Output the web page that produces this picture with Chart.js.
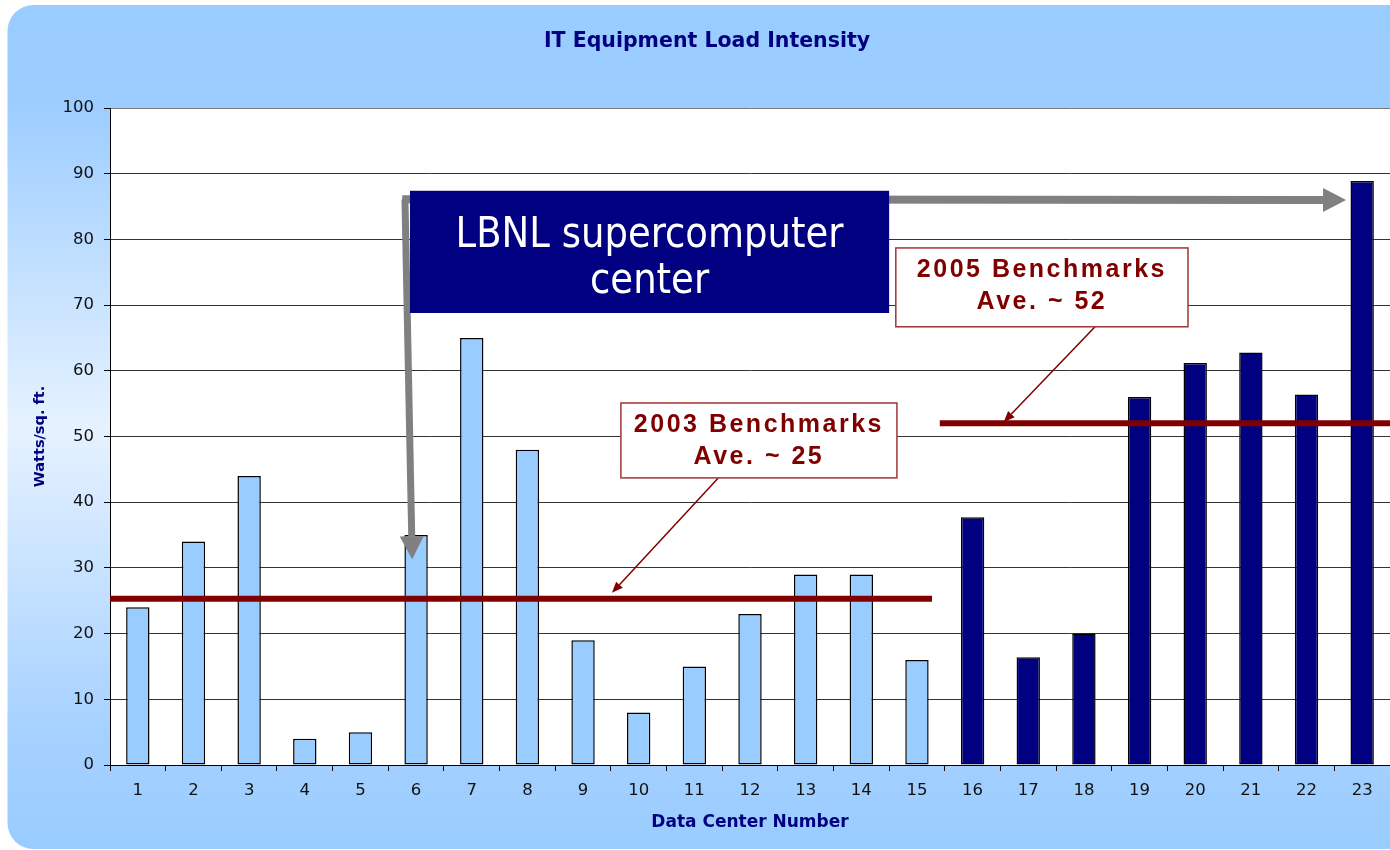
<!DOCTYPE html>
<html>
<head>
<meta charset="utf-8">
<title>IT Equipment Load Intensity</title>
<script src="https://cdn.jsdelivr.net/npm/chart.js@4.4.1/dist/chart.umd.min.js"></script>
<style>
  html, body { margin: 0; padding: 0; background: #fff; }
  #wrap { width: 1390px; height: 850px; }
</style>
</head>
<body>
<div id="wrap"><canvas id="loadChart" width="1390" height="850"></canvas></div>
<script>
// Data center numbers 1..23 and their load (Watts / sq. ft.)
const centerNumbers = ['1', '2', '3', '4', '5', '6', '7', '8', '9', '10', '11', '12',
                       '13', '14', '15', '16', '17', '18', '19', '20', '21', '22', '23'];
const load2003 = [24, 34, 44, 4, 5, 35, 65, 48, 19, 8, 15, 23, 29, 29, 16,
                  null, null, null, null, null, null, null, null];
const load2005 = [null, null, null, null, null, null, null, null, null, null, null, null, null, null, null,
                  37.7, 16.4, 20, 56, 61.2, 62.8, 56.4, 88.9];
const yTickValues = [0, 10, 20, 30, 40, 50, 60, 70, 80, 90, 100];

// benchmark averages and the span of centers they cover (category index)
const benchmarkTitles = ['2003 Benchmarks', '2005 Benchmarks'];
const benchmarkNotes = ['Ave. ~ 25', 'Ave. ~ 52'];
const benchmarkAverages = [25.3, 52];
const benchmarkFrom = [-0.5, 14.41];
const benchmarkTo = [14.27, 22.5];

// callouts, in data space (x = category index, y = Watts/sq. ft.)
const benchBoxes = [
  { x0: 8.68, x1: 13.64, y0: 55.1, y1: 43.7, from: [10.43, 43.7], to: [8.52, 26.2] },
  { x0: 13.62, x1: 18.87, y0: 78.7, y1: 66.7, from: [17.2, 66.7], to: [15.56, 52.2] }
];
const lbnlText = ['LBNL supercomputer', 'center'];
const lbnlBox = { x0: 4.89, x1: 13.5, y0: 87.4, y1: 68.8 };
const lbnlArrows = [
  { from: [4.75, 86.1], to: [21.71, 86.0], width: 8 },
  { from: [4.80, 86.1], to: [4.93, 31.3], width: 7 }
];

Chart.defaults.font.family = '"DejaVu Sans", sans-serif';

const drawArrow = (ctx, x1, y1, x2, y2, lw, headLen, headHalf, color) => {
  const len = Math.hypot(x2 - x1, y2 - y1);
  const ux = (x2 - x1) / len, uy = (y2 - y1) / len;
  const bx = x2 - ux * headLen, by = y2 - uy * headLen;
  ctx.strokeStyle = color;
  ctx.fillStyle = color;
  ctx.lineWidth = lw;
  ctx.lineCap = 'butt';
  ctx.beginPath();
  ctx.moveTo(x1, y1);
  ctx.lineTo(bx, by);
  ctx.stroke();
  ctx.beginPath();
  ctx.moveTo(x2, y2);
  ctx.lineTo(bx - uy * headHalf, by + ux * headHalf);
  ctx.lineTo(bx + uy * headHalf, by - ux * headHalf);
  ctx.closePath();
  ctx.fill();
};

// rounded light-blue panel + white plot area
const panelPlugin = {
  id: 'panel',
  beforeDraw(chart) {
    const { ctx, chartArea: a } = chart;
    ctx.save();
    ctx.fillStyle = '#ffffff';
    ctx.fillRect(0, 0, chart.width, chart.height);

    const g = ctx.createLinearGradient(0, 5, 0, 849);
    g.addColorStop(0, '#99ccff');
    g.addColorStop(0.12, '#9dcdff');
    g.addColorStop(0.5, '#e6f2ff');
    g.addColorStop(0.86, '#a6d1ff');
    g.addColorStop(1, '#99ccff');
    const l = 7.5, t = 5, r = chart.width + 40, b = 849, rad = 26;
    ctx.beginPath();
    ctx.moveTo(l + rad, t);
    ctx.lineTo(r, t);
    ctx.lineTo(r, b);
    ctx.lineTo(l + rad, b);
    ctx.arcTo(l, b, l, b - rad, rad);
    ctx.lineTo(l, t + rad);
    ctx.arcTo(l, t, l + rad, t, rad);
    ctx.closePath();
    ctx.fillStyle = g;
    ctx.fill();

    ctx.fillStyle = '#ffffff';
    ctx.fillRect(a.left, a.top, a.right - a.left, a.bottom - a.top);
    ctx.restore();
  }
};

const notesPlugin = {
  id: 'notes',
  afterDatasetsDraw(chart) {
    const { ctx, scales: { x, y } } = chart;
    const px = v => x.getPixelForValue(v);
    const py = v => y.getPixelForValue(v);
    ctx.save();

    // benchmark average lines
    ctx.strokeStyle = '#800000';
    ctx.lineWidth = 6;
    benchmarkAverages.forEach((avg, i) => {
      ctx.beginPath();
      ctx.moveTo(px(benchmarkFrom[i]), py(avg));
      ctx.lineTo(px(benchmarkTo[i]), py(avg));
      ctx.stroke();
    });

    // gray pointers to the LBNL centers
    lbnlArrows.forEach(a => {
      drawArrow(ctx, px(a.from[0]), py(a.from[1]), px(a.to[0]), py(a.to[1]), a.width, 23, 12, '#808080');
    });

    // LBNL label box
    const bl = px(lbnlBox.x0), br = px(lbnlBox.x1), bt = py(lbnlBox.y0), bb = py(lbnlBox.y1);
    ctx.fillStyle = '#000080';
    ctx.fillRect(bl, bt, br - bl, bb - bt);
    ctx.fillStyle = '#ffffff';
    ctx.font = '43px "Liberation Sans Narrow", "DejaVu Sans Condensed", "Liberation Sans", sans-serif';
    ctx.textAlign = 'center';
    ctx.textBaseline = 'alphabetic';
    const sx = Math.min(1, 388 / ctx.measureText(lbnlText[0]).width);
    const h = bb - bt;
    [0.46, 0.835].forEach((f, i) => {
      ctx.save();
      ctx.translate((bl + br) / 2, bt + f * h);
      ctx.scale(sx, 1);
      ctx.fillText(lbnlText[i], 0, 0);
      ctx.restore();
    });

    // benchmark callouts
    benchBoxes.forEach((c, i) => {
      drawArrow(ctx, px(c.from[0]), py(c.from[1]), px(c.to[0]), py(c.to[1]), 1.5, 11, 4.5, '#800000');
      const l = px(c.x0), r = px(c.x1), t = py(c.y0), b = py(c.y1);
      ctx.fillStyle = '#ffffff';
      ctx.fillRect(l, t, r - l, b - t);
      ctx.strokeStyle = '#a03535';
      ctx.lineWidth = 1.5;
      ctx.strokeRect(l, t, r - l, b - t);
      ctx.fillStyle = '#800000';
      ctx.font = 'bold 25px "Liberation Sans", Arial, sans-serif';
      ctx.letterSpacing = '2.5px';
      ctx.textAlign = 'center';
      ctx.textBaseline = 'alphabetic';
      ctx.fillText(benchmarkTitles[i], (l + r) / 2, t + 29);
      ctx.fillText(benchmarkNotes[i], (l + r) / 2, t + 61);
      ctx.letterSpacing = '0px';
    });

    ctx.restore();
  }
};

new Chart(document.getElementById('loadChart'), {
  type: 'bar',
  data: {
    labels: centerNumbers,
    datasets: [
      {
        label: 'Centers 1-15',
        data: load2003,
        backgroundColor: '#99ccff',
        borderColor: '#000000',
        borderWidth: 1.5,
        borderSkipped: false,
        grouped: false,
        barPercentage: 0.42,
        categoryPercentage: 1
      },
      {
        label: 'Centers 16-23',
        data: load2005,
        backgroundColor: '#000080',
        borderColor: '#000000',
        borderWidth: 1.5,
        borderSkipped: false,
        grouped: false,
        barPercentage: 0.42,
        categoryPercentage: 1
      }
    ]
  },
  options: {
    responsive: false,
    animation: false,
    devicePixelRatio: 1,
    layout: { padding: { left: 24, top: 0, right: 0, bottom: 0 } },
    plugins: {
      legend: { display: false },
      tooltip: { enabled: false },
      title: {
        display: true,
        text: 'IT Equipment Load Intensity',
        color: '#000080',
        font: { size: 20.5, weight: 'bold' },
        padding: { top: 29.7, bottom: 53.7 }
      }
    },
    scales: {
      x: {
        offset: true,
        grid: {
          display: true,
          drawOnChartArea: false,
          drawTicks: true,
          tickLength: 6,
          offset: true,
          tickColor: '#000000'
        },
        border: { display: true, color: '#000000', width: 1 },
        ticks: { color: '#111111', font: { size: 16.5 }, padding: 10 },
        title: {
          display: true,
          text: 'Data Center Number',
          color: '#000080',
          font: { size: 17, weight: 'bold' },
          padding: { top: 0, bottom: 16.8 }
        },
        afterFit: axis => { axis.height = 85; }
      },
      y: {
        min: yTickValues[0],
        max: yTickValues[yTickValues.length - 1],
        afterBuildTicks: axis => { axis.ticks = yTickValues.map(v => ({ value: v })); },
        grid: {
          color: ctx => (ctx.tick && ctx.tick.value === 100 ? '#7a7a7a' : '#333333'),
          lineWidth: 1,
          drawTicks: true,
          tickLength: 6,
          tickColor: '#000000'
        },
        border: { display: true, color: '#000000', width: 1 },
        ticks: { color: '#111111', font: { size: 16.5 }, padding: 10 },
        title: {
          display: true,
          text: 'Watts/sq. ft.',
          color: '#000080',
          font: { size: 14.5, weight: 'bold' },
          padding: { top: 7.3, bottom: 0 }
        },
        afterFit: axis => { axis.width = 86; }
      }
    }
  },
  plugins: [panelPlugin, notesPlugin]
});
</script>
</body>
</html>
